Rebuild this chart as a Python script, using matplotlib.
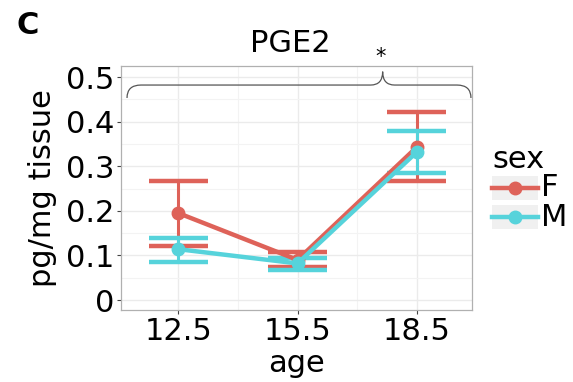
import numpy as np
import matplotlib.pyplot as plt
from matplotlib.path import Path
from matplotlib.patches import PathPatch, Rectangle
from matplotlib.lines import Line2D

# data
ages = [12.5, 15.5, 18.5]
f_mean = [0.195, 0.090, 0.343]
f_low = [0.122, 0.073, 0.266]
f_high = [0.267, 0.108, 0.421]
m_mean = [0.114, 0.082, 0.332]
m_low = [0.085, 0.067, 0.285]
m_high = [0.140, 0.095, 0.379]

red = '#DE6259'
cyan = '#56D3DB'

plt.rcParams['font.family'] = 'DejaVu Sans'
fig = plt.figure(figsize=(5.73, 3.82), dpi=100)
W, H = 573, 382
ax = fig.add_axes([121/W, 1-310/H, 351/W, 244/H])

ax.set_xlim(11.063, 19.886)
ax.set_ylim(-0.0224, 0.5247)

ax.set_xticks(ages)
ax.set_xticklabels(['12.5', '15.5', '18.5'])
ax.set_xticks([14, 17], minor=True)
ax.set_yticks([0, 0.1, 0.2, 0.3, 0.4, 0.5])
ax.set_yticklabels(['0', '0.1', '0.2', '0.3', '0.4', '0.5'])
ax.set_yticks([0.05, 0.15, 0.25, 0.35, 0.45], minor=True)
ax.grid(True, which='major', color='#EBEBEB', lw=1.0)
ax.grid(True, which='minor', color='#F3F3F3', lw=0.8)
ax.set_axisbelow(True)
for s in ax.spines.values():
    s.set_color('#B0B0B0')
    s.set_linewidth(0.9)
ax.tick_params(which='major', length=3, color='#444444', labelsize=22, pad=2)
ax.tick_params(which='minor', length=0)

capw = 0.74
for mean, lo, hi, c in [(f_mean, f_low, f_high, red), (m_mean, m_low, m_high, cyan)]:
    ax.vlines(ages, lo, hi, color=c, lw=2.2, zorder=3)
    ax.hlines(lo, np.array(ages) - capw, np.array(ages) + capw, color=c, lw=3.2, zorder=3)
    ax.hlines(hi, np.array(ages) - capw, np.array(ages) + capw, color=c, lw=3.2, zorder=3)
    ax.plot(ages, mean, color=c, lw=3.2, marker='o', ms=9, zorder=4)

ax.set_xlabel('age', fontsize=22, labelpad=2)
ax.set_ylabel('pg/mg tissue', fontsize=22, labelpad=6)
fig.text(290/W, 1-44/H, 'PGE2', fontsize=22, ha='center', va='center')

# significance brace
bx0, bx1, bpk = 11.214, 19.86, 17.64
by0, bym, bytop = 0.453, 0.482, 0.512
verts = [(bx0, by0), (bx0, bym), (bx0 + 0.35, bym),
         (bpk - 0.3, bym), (bpk, bym), (bpk, bytop),
         (bpk, bym), (bpk + 0.3, bym),
         (bx1 - 0.35, bym), (bx1, bym), (bx1, by0)]
codes = [Path.MOVETO, Path.CURVE3, Path.CURVE3,
         Path.LINETO, Path.CURVE3, Path.CURVE3,
         Path.CURVE3, Path.CURVE3,
         Path.LINETO, Path.CURVE3, Path.CURVE3]
ax.add_patch(PathPatch(Path(verts, codes), fill=False, ec='#555555', lw=0.9, clip_on=False, zorder=5))
ax.text(17.6, 0.545, '*', ha='center', va='center', fontsize=15, clip_on=False)

# panel label
fig.text(17/W, 1-25/H, 'C', fontsize=22, fontweight='bold', va='center', ha='left')

# legend
fig.text(492/W, 1-160/H, 'sex', fontsize=22, va='center', ha='left')
for yc, c, lab in [(188, red, 'F'), (217, cyan, 'M')]:
    fig.add_artist(Rectangle((492/W, 1-(yc+12)/H), 46/W, 24/H, transform=fig.transFigure,
                             fc='#F0F0F0', ec='none'))
    fig.add_artist(Line2D([492/W, 538/W], [1-yc/H, 1-yc/H], transform=fig.transFigure,
                          color=c, lw=3.2))
    fig.add_artist(Line2D([515/W], [1-yc/H], transform=fig.transFigure,
                          color=c, marker='o', ms=9, lw=0))
    fig.text(541/W, 1-yc/H, lab, fontsize=22, va='center', ha='left')

fig.savefig('out.png', dpi=100)
